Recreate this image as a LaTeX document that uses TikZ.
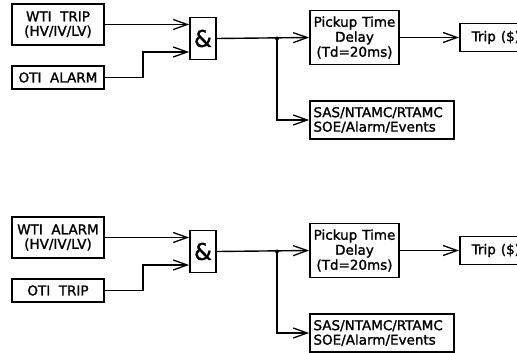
\documentclass[tikz,border=0pt]{standalone}
\usepackage{fontspec}
\setmainfont{DejaVu Sans}[FakeBold=1.5]
\usetikzlibrary{arrows.meta}
\begin{document}
\begin{tikzpicture}[x=1pt, y=-1pt, line width=1.4pt,
    caja/.style={draw, line width=1.7pt, align=center, inner sep=0pt,
      font=\fontsize{13.5}{14.5}\selectfont},
    flecha/.style={-{Straight Barb[length=14pt, width=10pt, line width=1.3pt]}}]
    \useasboundingbox (0,0) rectangle (517,353);
    % Dos bloques logicos iguales
    \foreach \i/\dy/\arriba/\abajo in {1/0/{WTI~~TRIP}/{OTI~~ALARM}, 2/213/{WTI~~ALARM}/{OTI~~TRIP}} {
    \begin{scope}[yshift=-\dy pt]
        % Entradas
        \node[caja, minimum width=92, minimum height=41] (wti\i) at (58,24.5) {\arriba\\(HV/IV/LV)};
        \node[caja, minimum width=92, minimum height=23] (oti\i) at (58,77.5) {\abajo};
        % Compuerta AND
        \node[caja, minimum width=26, minimum height=42, font=\fontsize{23}{24}\selectfont] (and\i) at (203,38.5) {\&};
        % Salidas
        \node[caja, minimum width=89, minimum height=54, font=\fontsize{13.5}{15}\selectfont] (pickup\i) at (354.5,37.5) {Pickup\hspace{5pt}Time\\Delay\\(Td=20ms)};
        \node[caja, minimum width=72, minimum height=28, anchor=west] (trip\i) at (459,37.5) {Trip\hspace{5pt}(\$)};
        \node[caja, align=left, minimum width=144, minimum height=38, text width=137] (sas\i) at (382,120) {SAS/NTAMC/RTAMC\\SOE/Alarm/Events};
        \coordinate (junta\i) at (277,38.5);
        % Conexiones
        \draw[flecha] (wti\i.east) -- (wti\i.east -| and\i.west);
        \draw[flecha] (oti\i.east) -- ++(38,0) |- ([yshift=-13.5pt]and\i.west);
        \draw[flecha] (and\i.east) -- (pickup\i.west);
        \fill (junta\i) circle (2);
        \draw[flecha] (junta\i) |- (sas\i.west);
        \draw[flecha] (pickup\i.east) -- (trip\i.west);
    \end{scope}
    }
\end{tikzpicture}
\end{document}
